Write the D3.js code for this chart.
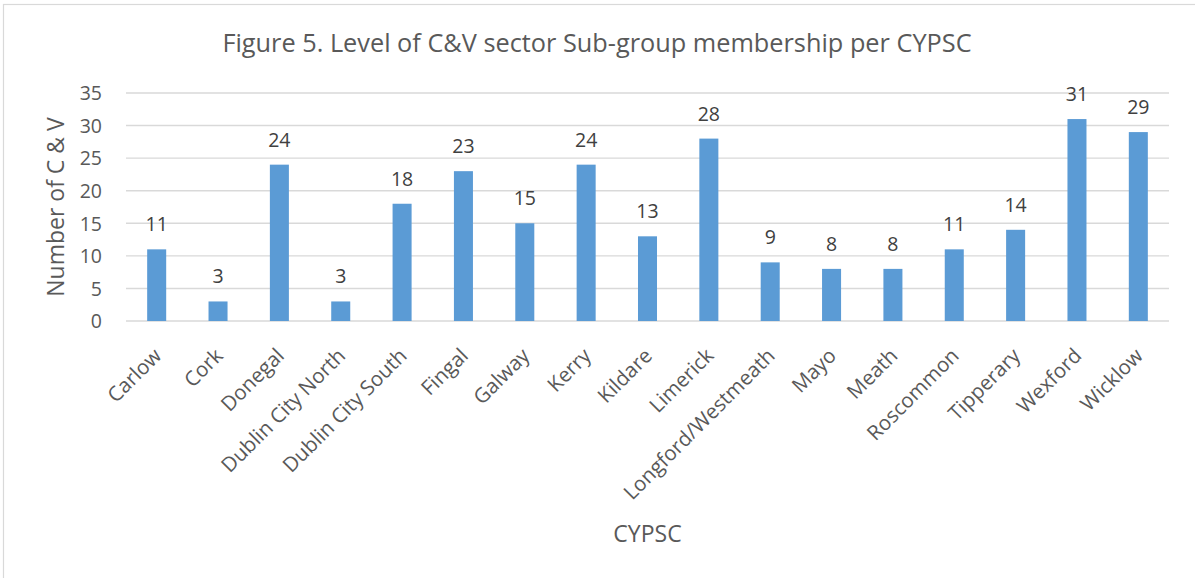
<!DOCTYPE html>
<html><head><meta charset="utf-8">
<script src="https://cdn.jsdelivr.net/npm/d3@7"></script>
<style>html,body{margin:0;padding:0;background:#fff;} svg{display:block;}</style>
</head><body>
<svg id="chart" width="1195" height="578"></svg>
<script>
const categories = ["Carlow","Cork","Donegal","Dublin City North","Dublin City South","Fingal","Galway","Kerry","Kildare","Limerick","Longford/Westmeath","Mayo","Meath","Roscommon","Tipperary","Wexford","Wicklow"];
const values = [11,3,24,3,18,23,15,24,13,28,9,8,8,11,14,31,29];
const yTicks = [0,5,10,15,20,25,30,35];
const title = "Figure 5. Level of C&V sector Sub-group membership per CYPSC";
const yTitle = "Number of C & V";
const xTitle = "CYPSC";

const FONT = "'Open Sans', 'Noto Sans', sans-serif";
const svg = d3.select("#chart");
const m = {left:126, right:1169, top:93, bottom:321};

svg.append("rect").attr("x",3.5).attr("y",4.5).attr("width",1200).attr("height",600)
  .attr("fill","#fff").attr("stroke","#d9d9d9").attr("stroke-width",1.2);

const x = d3.scaleBand().domain(categories).range([m.left,m.right]).paddingInner(0.69).paddingOuter(0.345);
const y = d3.scaleLinear().domain([0,35]).range([m.bottom,m.top]);

// gridlines
svg.append("g").selectAll("line").data(yTicks).join("line")
  .attr("x1",m.left).attr("x2",m.right)
  .attr("y1",d=>y(d)).attr("y2",d=>y(d))
  .attr("stroke","#d9d9d9").attr("stroke-width",1.4);

// y axis labels
const yAxis = d3.axisLeft(y).tickValues(yTicks).tickSize(0).tickPadding(0);
const gy = svg.append("g").attr("transform",`translate(${m.left-24},0)`).call(yAxis);
gy.select(".domain").remove();
gy.selectAll("text").attr("font-family",FONT).attr("font-size",19.5).attr("fill","#595959").attr("dy","0.35em");

// bars
svg.append("g").selectAll("rect").data(values).join("rect")
  .attr("x",(d,i)=>x(categories[i])).attr("width",x.bandwidth())
  .attr("y",d=>y(d)).attr("height",d=>y(0)-y(d))
  .attr("fill","#5b9bd5");

// data labels
svg.append("g").selectAll("text").data(values).join("text")
  .attr("x",(d,i)=>x(categories[i])+x.bandwidth()/2).attr("y",d=>y(d)-18)
  .attr("text-anchor","middle").attr("font-family",FONT).attr("font-size",19.5).attr("fill","#404040")
  .text(d=>d);

// x axis labels
const xAxis = d3.axisBottom(x).tickSize(0).tickPadding(0);
const gx = svg.append("g").attr("transform",`translate(0,${m.bottom})`).call(xAxis);
gx.select(".domain").remove();
gx.selectAll("text").attr("font-family",FONT).attr("font-size",20.5).attr("fill","#595959")
  .attr("text-anchor","end").attr("dy",0).attr("y",0)
  .attr("transform","translate(6,36) rotate(-45)");

// titles
svg.append("text").attr("x",597).attr("y",52).attr("text-anchor","middle")
  .attr("font-family",FONT).attr("font-size",25.3).attr("fill","#595959").text(title);
svg.append("text").attr("transform",`translate(64,207) rotate(-90)`).attr("text-anchor","middle")
  .attr("font-family",FONT).attr("font-size",23).attr("fill","#595959").text(yTitle);
svg.append("text").attr("x",(m.left+m.right)/2).attr("y",542).attr("text-anchor","middle")
  .attr("font-family",FONT).attr("font-size",23).attr("fill","#595959").text(xTitle);
</script>
</body></html>
